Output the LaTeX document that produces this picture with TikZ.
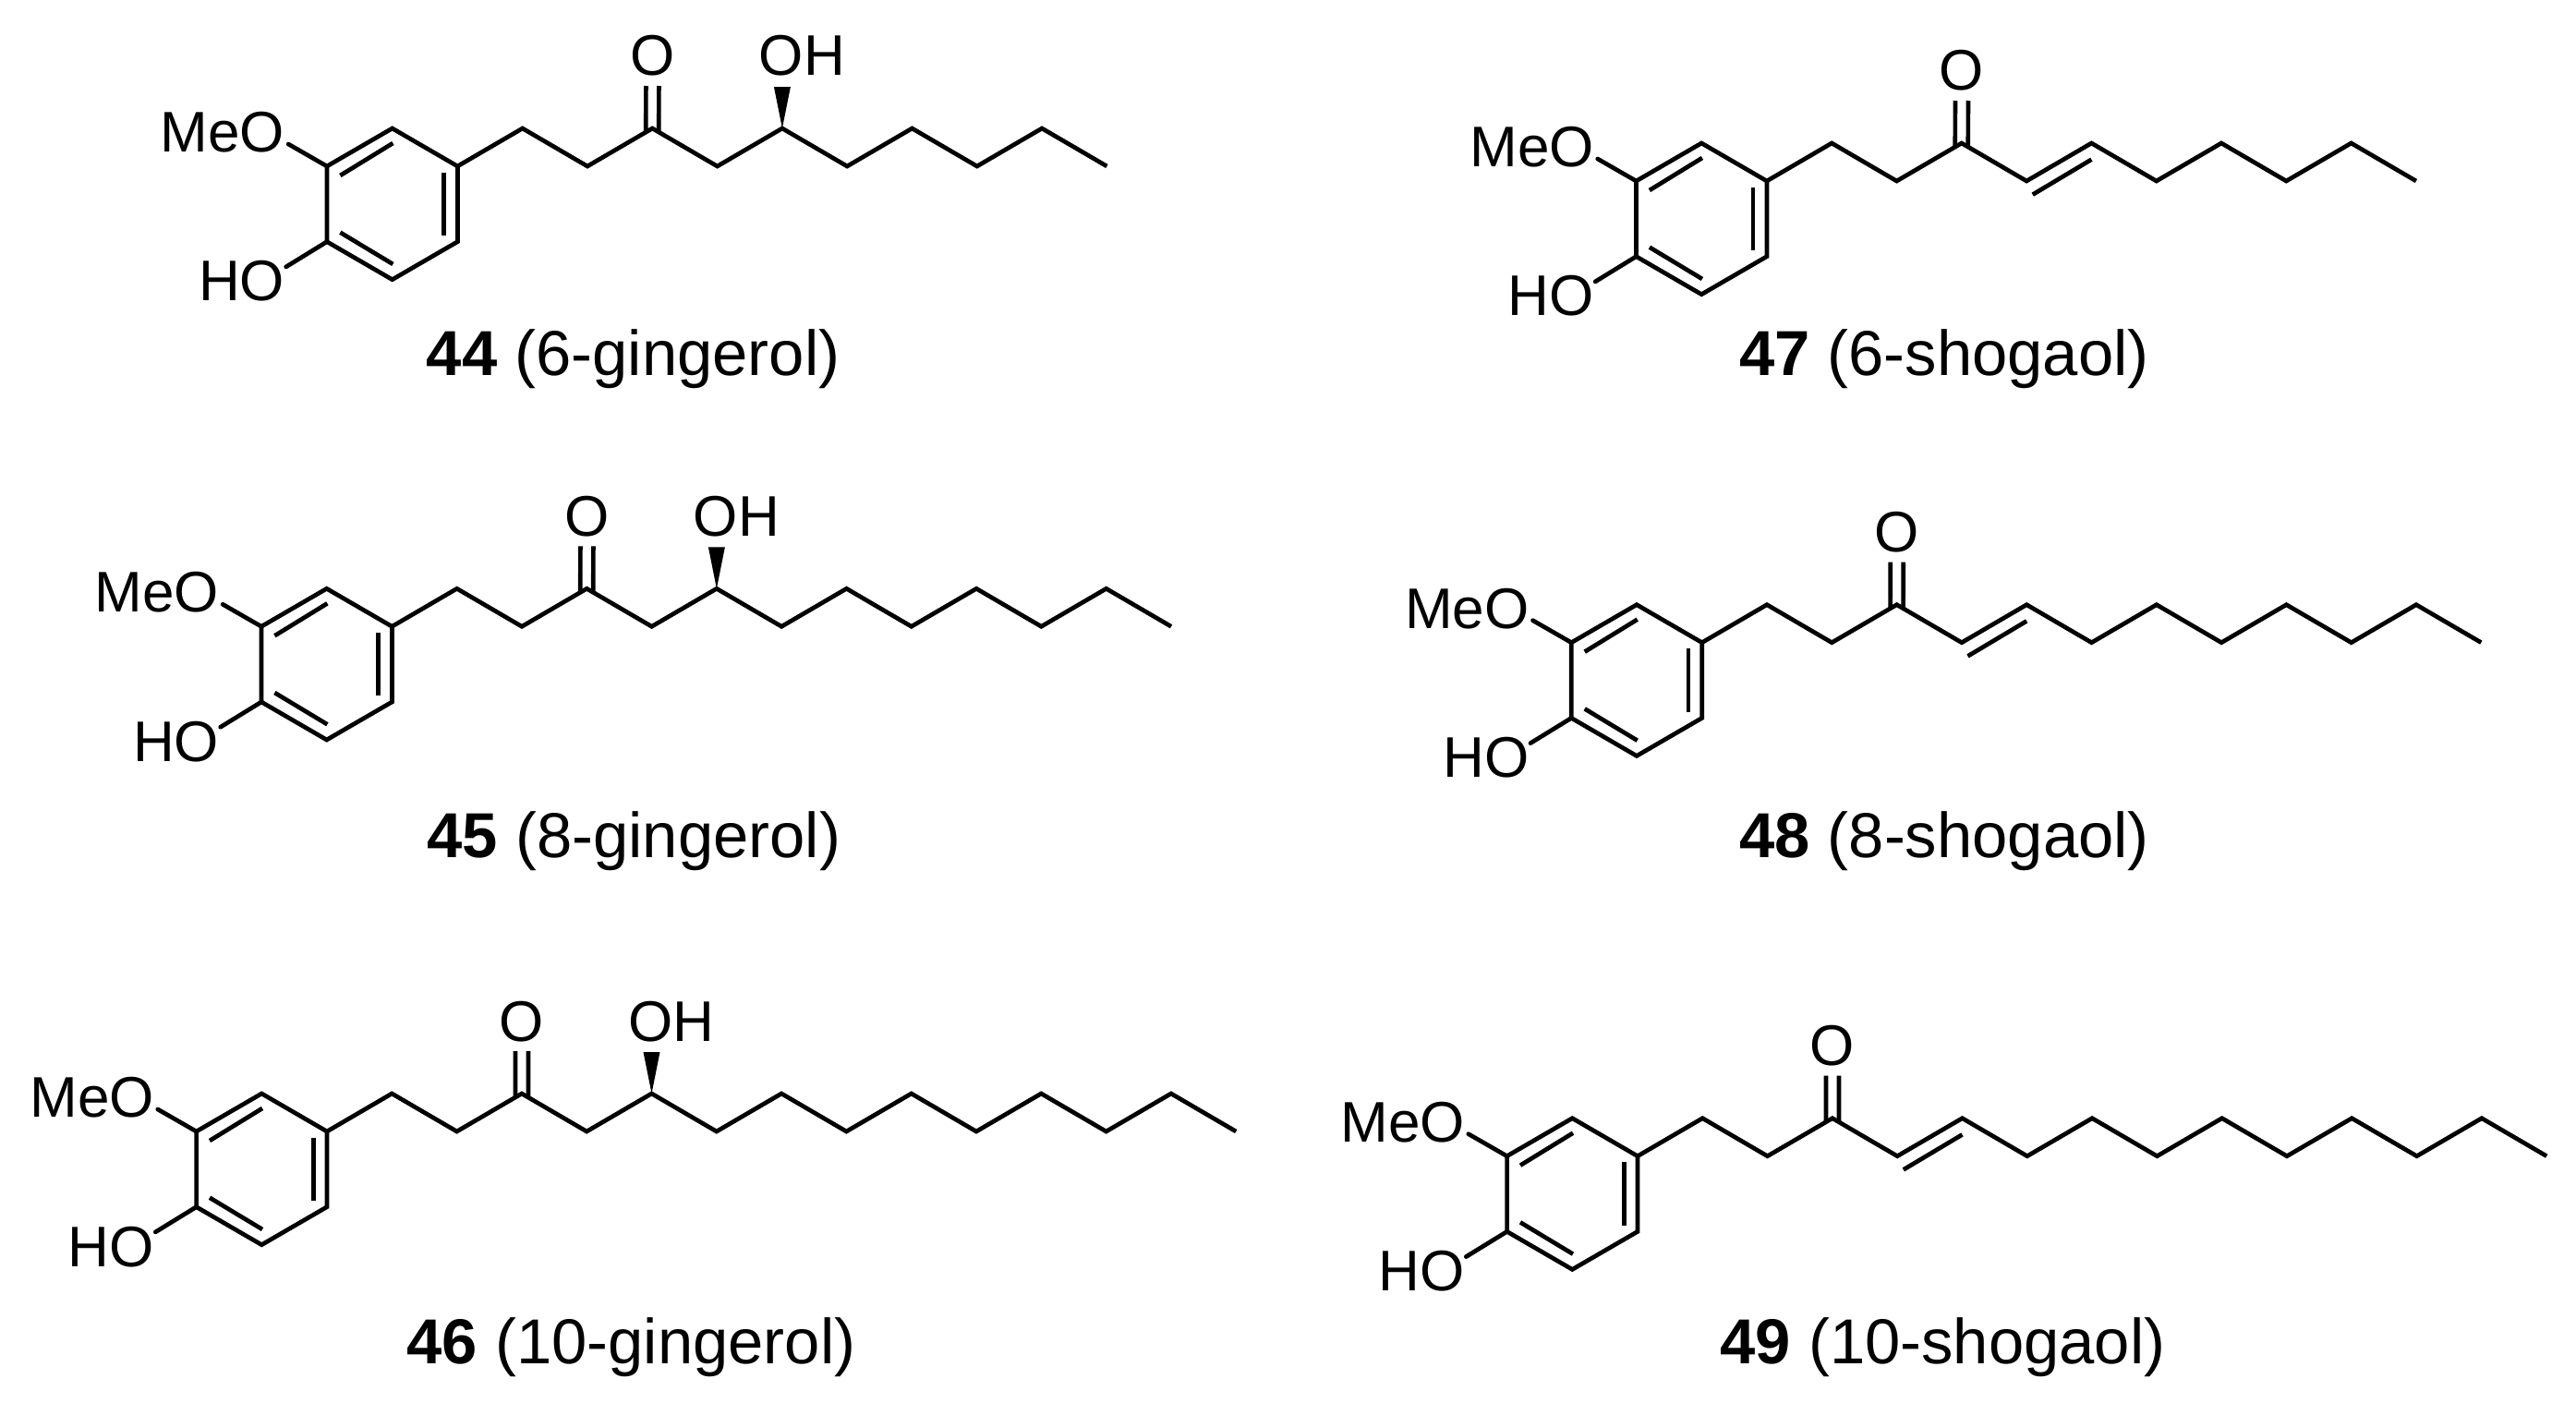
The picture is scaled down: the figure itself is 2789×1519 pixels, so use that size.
\documentclass[tikz,border=0pt]{standalone}
\usepackage{fontspec}
\setmainfont{Liberation Sans}
\tikzset{
  x=0.5pt,y=-0.5pt,
  bond/.style={line width=2.35pt,line join=miter,line cap=butt,black},
  atom/.style={inner sep=0pt,font=\fontsize{31}{32}\selectfont,text=black},
  complabel/.style={inner sep=0pt,anchor=base,font=\fontsize{34.4}{36}\selectfont,text=black}
}
% gingerol: stereo OH on c5
\newcommand{\gingpart}[1]{%
  \node[atom,anchor=base west] (#1oh) at (326.1,-98) {OH};
  \fill[black] (#1c5) -- ([xshift=8.2pt,yshift=-5.5pt]#1oh.south west) -- ([xshift=17.2pt,yshift=-5.5pt]#1oh.south west) -- cycle;
}
% shogaol: E-alkene c4=c5
\newcommand{\shogpart}[1]{%
  \draw[bond] ([xshift=3.3pt,yshift=-7.35pt]#1c4) -- ([yshift=-8.85pt]#1c5);
}
% #1 id, #2 x of C1, #3 y of C1, #4 chain steps, #5 side part, #6 number, #7 name, #8 label x, #9 label baseline
\newcommand{\molecule}[9]{%
  \begin{scope}[shift={(#2,#3)}]
    \coordinate (#1ur) at (0,0);
    \coordinate (#1t) at (-70.7,-41);
    \coordinate (#1ul) at (-141.4,0);
    \coordinate (#1ll) at (-141.4,81.7);
    \coordinate (#1b) at (-70.7,122.7);
    \coordinate (#1lr) at (0,81.7);
    \coordinate (#1ia) at (-127,10);
    \coordinate (#1ib) at (-70,-25);
    \coordinate (#1ic) at (-14.8,6.7);
    \coordinate (#1id) at (-14.8,75);
    \coordinate (#1ie) at (-127,71.7);
    \coordinate (#1if) at (-70,106);
    \foreach \i in {0,...,#4} {\coordinate (#1c\i) at ({70.3*\i},{-41*mod(\i,2)});}
    \draw[bond] (#1ur) -- (#1t) -- (#1ul) -- (#1ll) -- (#1b) -- (#1lr) -- cycle;
    \draw[bond] (#1ia) -- (#1ib);
    \draw[bond] (#1ic) -- (#1id);
    \draw[bond] (#1ie) -- (#1if);
    \draw[bond] (#1c0) foreach \i in {1,...,#4} { -- (#1c\i) };
    \node[atom,anchor=base east] (#1meo) at (-186.8,-15.5) {MeO};
    \node[atom,anchor=base east] (#1ho) at (-186.8,146) {HO};
    \node[atom,anchor=base] (#1o) at (211,-98) {O};
    \draw[bond,line cap=round] (#1ul) -- ([xshift=1.8pt,yshift=4.75pt]#1meo.south east);
    \draw[bond,line cap=round] (#1ll) -- ([xshift=0.55pt,yshift=-3.3pt]#1ho.north east);
    \draw[bond] ([xshift=-3.5pt,yshift=-2pt]#1c3) -- ([xshift=-3.5pt,yshift=-5pt]#1o.south);
    \draw[bond] ([xshift=3.5pt,yshift=-2pt]#1c3) -- ([xshift=3.5pt,yshift=-5pt]#1o.south);
    #5{#1}
  \end{scope}
  \node[complabel] (#1label) at (#8,#9) {\textbf{#6} (#7)};
}
\begin{document}
\begin{tikzpicture}
  \useasboundingbox (0,0) rectangle (2789,1519);
  \molecule{ma}{495.4}{180}{10}{\gingpart}{44}{6-gingerol}{685.6}{406.5}
  \molecule{mb}{424.4}{678.3}{12}{\gingpart}{45}{8-gingerol}{686.4}{928}
  \molecule{mc}{354}{1225}{14}{\gingpart}{46}{10-gingerol}{683.5}{1476.5}
  \molecule{md}{1912.9}{196}{10}{\shogpart}{47}{6-shogaol}{2104.8}{406.5}
  \molecule{me}{1842.7}{695.7}{12}{\shogpart}{48}{8-shogaol}{2105}{928}
  \molecule{mf}{1773}{1251.7}{14}{\shogpart}{49}{10-shogaol}{2103.5}{1476.5}
\end{tikzpicture}
\end{document}
